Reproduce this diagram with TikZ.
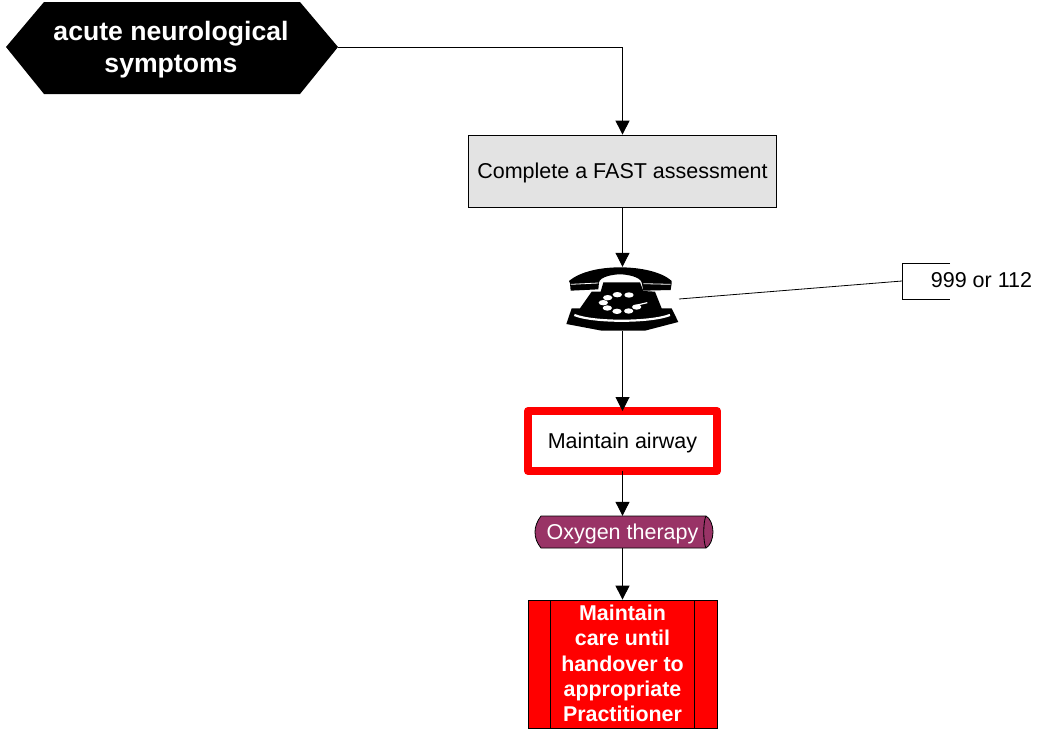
\documentclass[tikz,border=0pt]{standalone}
\usepackage{fontspec}
\setmainfont{Liberation Sans}
\usetikzlibrary{arrows.meta,shapes.geometric}
\definecolor{boxgrey}{HTML}{E3E3E3}
\definecolor{plum}{HTML}{993366}
\tikzset{
  link/.style={draw=black,line width=1pt,-{Triangle[length=14pt,width=14pt]}},
  plain/.style={draw=black,line width=.8pt},
  lbl/.style={font=\fontsize{21.5}{25}\selectfont,align=center,inner sep=0pt},
  droplbl/.style={lbl,text height=19.5pt,text depth=5pt},
  boldlbl/.style={font=\bfseries\fontsize{21.4}{25.3}\selectfont,align=center,text=white,inner sep=0pt},
}
\begin{document}
\begin{tikzpicture}[x=1pt,y=-1pt]
\useasboundingbox (0,0) rectangle (1037,729);
\fill[white] (0,0) rectangle (1037,729);
% start hexagon
\fill[black] (6,47) -- (44,2) -- (300,2) -- (338,47) -- (300,94) -- (44,94) -- cycle;
\node[boldlbl,font=\bfseries\fontsize{26.6}{32}\selectfont] (start) at (171,49.5) {acute neurological\\symptoms};
\coordinate (startE) at (338,47);
% FAST
\node[draw=black,line width=.8pt,fill=boxgrey,minimum width=308pt,minimum height=72pt,inner sep=0pt,droplbl] (fast) at (622.5,171) {Complete a FAST assessment};
% phone
\node[minimum width=114pt,minimum height=64pt,inner sep=0pt] (phone) at (622.5,299) {};
\begin{scope}[shift={(550,250)},x=.3333pt,y=-.3333pt]
\fill[black] (57,93) .. controls (90,65) and (150,52) .. (210,52) .. controls (270,52) and (335,65) .. (365,93) -- (365,100) -- (362,120) -- (280,122) -- (275,97) .. controls (270,80) and (230,73) .. (210,73) .. controls (190,73) and (150,80) .. (147,97) -- (145,118) -- (62,122) -- (60,100) -- cycle;
\draw[white,line width=.8pt] (62,103) -- (145,99) (280,101) -- (362,103);
\fill[black] (160,97) -- (270,97) -- (280,123) -- (315,125) -- (335,175) -- (365,175) -- (385,216) -- (285,242) -- (155,242) -- (49,222) -- (65,175) -- (90,175) -- (125,125) -- (152,125) -- cycle;
\fill[white] (202,134) ellipse[x radius=14,y radius=8] (237,135) ellipse[x radius=14,y radius=8] (173,143) ellipse[x radius=14,y radius=8] (160,158) ellipse[x radius=14,y radius=8] (172,174) ellipse[x radius=14,y radius=8] (201,184) ellipse[x radius=14,y radius=8] (236,183) ellipse[x radius=14,y radius=8] (260,171) ellipse[x radius=14,y radius=8];
\draw[white,line width=1.2pt] (262,165) -- (292,158);
\draw[white,line width=2.2pt] (73,195) .. controls (130,218) and (300,218) .. (360,195);
\end{scope}
% callout
\node[lbl] (num) at (981.5,280) {999 or 112};
\coordinate (brTop) at (950,263);
\coordinate (brTL) at (902,263);
\coordinate (brBL) at (902,299);
\coordinate (brBot) at (950,299);
\coordinate (brMid) at (902,281);
\coordinate (phoneE) at (679,299);
\draw[plain] (brTop) -- (brTL) -- (brBL) -- (brBot);
\draw[plain] (brMid) -- (phoneE);
% airway
\node[draw=red,line width=8pt,line join=round,outer sep=0pt,fill=white,minimum width=189pt,minimum height=60pt,inner sep=0pt,droplbl] (air) at (622.5,441) {Maintain airway};
% oxygen
\fill[plum,draw=black,line width=.8pt] (541,516) -- (706,516) .. controls (710,518) and (713,525) .. (713,532) .. controls (713,539) and (710,546) .. (706,548) -- (541,548) .. controls (537,543) and (535,538) .. (535,532) .. controls (535,527) and (537,521) .. (541,516) -- cycle;
\draw[black,line width=.8pt] (706,516) .. controls (703,522) and (703,542) .. (706,548);
\node[droplbl,text=white,minimum width=160pt,minimum height=32pt] (oxy) at (622.5,532) {Oxygen therapy};
% care
\node[draw=black,line width=.8pt,fill=red,minimum width=189pt,minimum height=128pt,inner sep=0pt] (care) at (622.5,664) {};
\draw[black,line width=.8pt] (550.5,600) -- (550.5,728) (694.5,600) -- (694.5,728);
\node[boldlbl] (caretxt) at (622.5,663.5) {Maintain\\care until\\handover to\\appropriate\\Practitioner};
% connectors
\draw[link] (startE) -| (fast.north);
\draw[link] (fast.south) -- (phone.north);
\draw[link] (phone.south) -- (air.north);
\draw[link] (air.south) -- (oxy.north);
\draw[link] (oxy.south) -- (care.north);
\end{tikzpicture}
\end{document}
